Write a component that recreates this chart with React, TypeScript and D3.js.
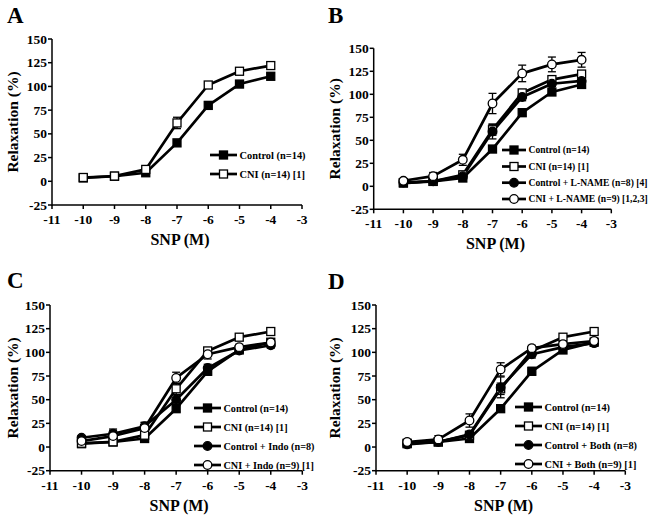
import React from "react";
import * as d3 from "d3";

const xTicks = [-11, -10, -9, -8, -7, -6, -5, -4, -3];
const yTicks = [-25, 0, 25, 50, 75, 100, 125, 150];
const doses = [-10, -9, -8, -7, -6, -5, -4];

const control = [3.5, 5.3, 9, 40.5, 80, 102.5, 110.7];
const controlErr = [1, 1, 1.5, 3, 4, 3, 3];
const cni = [4, 5.5, 12.5, 61.5, 101.5, 116, 122];
const cniErr = [1, 1, 2, 6, 3, 3, 3];
const ctrlLName = [4, 5.5, 11, 59.5, 97, 111.5, 114.5];
const ctrlLNameErr = [1, 1, 2, 8, 4, 3, 3];
const cniLName = [6, 11, 28.8, 90, 122.7, 132.5, 137.5];
const cniLNameErr = [2, 4, 6, 11, 9, 8, 8];
const ctrlIndo = [9.8, 14, 22, 50, 83.4, 102, 107.5];
const ctrlIndoErr = [2, 5, 4, 5, 4, 3, 3];
const cniIndo = [6.3, 11.6, 20, 73, 98, 105.5, 110.4];
const cniIndoErr = [2, 6, 6, 6, 5, 3, 3];
const ctrlBoth = [2.8, 5.3, 13.3, 63, 98, 105.5, 109.7];
const ctrlBothErr = [1, 1, 3, 11, 4, 3, 3];
const cniBoth = [5.3, 8, 28, 82, 104.4, 108.7, 112];
const cniBothErr = [2, 4, 7, 7, 3, 3, 3];

type Marker = "fs" | "os" | "fc" | "oc";
type Series = { name: string; values: number[]; err: number[]; marker: Marker };

const sControl: Series = { name: "Control (n=14)", values: control, err: controlErr, marker: "fs" };
const sCni: Series = { name: "CNI (n=14) [1]", values: cni, err: cniErr, marker: "os" };

const FONT = "Liberation Serif, Times New Roman, Times, serif";

function MarkerShape({ x, y, m }: { x: number; y: number; m: Marker }) {
  const s = 8;
  if (m === "fs" || m === "os") {
    return (
      <rect x={x - s / 2} y={y - s / 2} width={s} height={s}
        fill={m === "fs" ? "#000" : "#fff"} stroke="#000" strokeWidth={1.3} />
    );
  }
  return <circle cx={x} cy={y} r={4.3} fill={m === "fc" ? "#000" : "#fff"} stroke="#000" strokeWidth={1.3} />;
}

type PanelProps = {
  letter: string;
  letterX: number;
  letterY: number;
  left: number;
  right: number;
  top: number;
  bottom: number;
  yLabelX: number;
  series: Series[];
  legendX: number;
  legendLen: number;
  legendFont: number;
  legendYs: number[];
};

function Panel(p: PanelProps) {
  const x = d3.scaleLinear().domain([-11, -3]).range([p.left, p.right]);
  const y = d3.scaleLinear().domain([-25, 150]).range([p.bottom, p.top]);
  const line = d3.line<number>().x((_, i) => x(doses[i])).y((v) => y(v));
  return (
    <g fontFamily={FONT} fontWeight="bold">
      <text x={p.letterX} y={p.letterY} fontSize={23}>{p.letter}</text>
      <line x1={p.left} x2={p.left} y1={p.top} y2={p.bottom + 0.75} stroke="#000" strokeWidth={1.5} />
      <line x1={p.left} x2={p.right} y1={p.bottom} y2={p.bottom} stroke="#000" strokeWidth={1.5} />
      {yTicks.map((t) => (
        <g key={"y" + t}>
          <line x1={p.left - 4} x2={p.left} y1={y(t)} y2={y(t)} stroke="#000" strokeWidth={1.5} />
          <text x={p.left - 5} y={y(t) + 4.5} textAnchor="end" fontSize={13.5}>{t}</text>
        </g>
      ))}
      {xTicks.map((t) => (
        <g key={"x" + t}>
          <line x1={x(t)} x2={x(t)} y1={p.bottom} y2={p.bottom + 4} stroke="#000" strokeWidth={1.5} />
          <text x={x(t)} y={p.bottom + 19} textAnchor="middle" fontSize={13.5}>{t}</text>
        </g>
      ))}
      <text transform={`translate(${p.yLabelX},${(p.top + p.bottom) / 2}) rotate(-90)`} textAnchor="middle"
        fontSize={15.5}>Relaxation (%)</text>
      <text x={(p.left + p.right) / 2 + 3} y={p.bottom + 40} textAnchor="middle" fontSize={16}>SNP (M)</text>
      {p.series.map((s) => (
        <path key={"l" + s.name} d={line(s.values) || ""} fill="none" stroke="#000" strokeWidth={2.7} strokeLinejoin="round" />
      ))}
      {p.series.map((s) =>
        s.values.map((v, i) => {
          const cx = x(doses[i]);
          const y1 = y(v + s.err[i]);
          const y2 = y(v - s.err[i]);
          return (
            <g key={"e" + s.name + i}>
              <line x1={cx} x2={cx} y1={y1} y2={y2} stroke="#000" strokeWidth={1.3} />
              <line x1={cx - 4} x2={cx + 4} y1={y1} y2={y1} stroke="#000" strokeWidth={1.3} />
              <line x1={cx - 4} x2={cx + 4} y1={y2} y2={y2} stroke="#000" strokeWidth={1.3} />
            </g>
          );
        })
      )}
      {p.series.map((s) =>
        s.values.map((v, i) => <MarkerShape key={"m" + s.name + i} x={x(doses[i])} y={y(v)} m={s.marker} />)
      )}
      {p.series.map((s, i) => (
        <g key={"lg" + s.name}>
          <line x1={p.legendX} x2={p.legendX + p.legendLen} y1={p.legendYs[i]} y2={p.legendYs[i]} stroke="#000" strokeWidth={2.7} />
          <MarkerShape x={p.legendX + p.legendLen / 2} y={p.legendYs[i]} m={s.marker} />
          <text x={p.legendX + p.legendLen + 2.5} y={p.legendYs[i] + p.legendFont * 0.36} fontSize={p.legendFont}>{s.name}</text>
        </g>
      ))}
    </g>
  );
}

export default function App() {
  return (
    <svg width={654} height={520} style={{ display: "block", position: "absolute", left: 0, top: 0, background: "#fff" }}>
      <rect width={654} height={520} fill="#fff" />
      <Panel letter="A" letterX={7} letterY={23} left={52} right={302} top={39} bottom={205} yLabelX={18}
        series={[sControl, sCni]} legendX={210} legendLen={27} legendFont={10.4} legendYs={[155, 174]} />
      <Panel letter="B" letterX={328} letterY={23} left={373.7} right={611.3} top={48.3} bottom={209.3} yLabelX={340}
        series={[
          sControl,
          sCni,
          { name: "Control + L-NAME (n=8) [4]", values: ctrlLName, err: ctrlLNameErr, marker: "fc" },
          { name: "CNI + L-NAME (n=9) [1,2,3]", values: cniLName, err: cniLNameErr, marker: "oc" },
        ]}
        legendX={502} legendLen={24} legendFont={9.6} legendYs={[150, 166.5, 182.7, 199]} />
      <Panel letter="C" letterX={7} letterY={288} left={50} right={302.3} top={305} bottom={470.7} yLabelX={18}
        series={[
          sControl,
          sCni,
          { name: "Control + Indo (n=8)", values: ctrlIndo, err: ctrlIndoErr, marker: "fc" },
          { name: "CNI + Indo (n=9) [1]", values: cniIndo, err: cniIndoErr, marker: "oc" },
        ]}
        legendX={194} legendLen={27} legendFont={10.2} legendYs={[408, 427, 446, 465]} />
      <Panel letter="D" letterX={328} letterY={289} left={376} right={625.3} top={305} bottom={470.7} yLabelX={340}
        series={[
          sControl,
          sCni,
          { name: "Control + Both (n=8)", values: ctrlBoth, err: ctrlBothErr, marker: "fc" },
          { name: "CNI + Both (n=9) [1]", values: cniBoth, err: cniBothErr, marker: "oc" },
        ]}
        legendX={515} legendLen={27} legendFont={10.3} legendYs={[407, 426, 445, 464]} />
    </svg>
  );
}
